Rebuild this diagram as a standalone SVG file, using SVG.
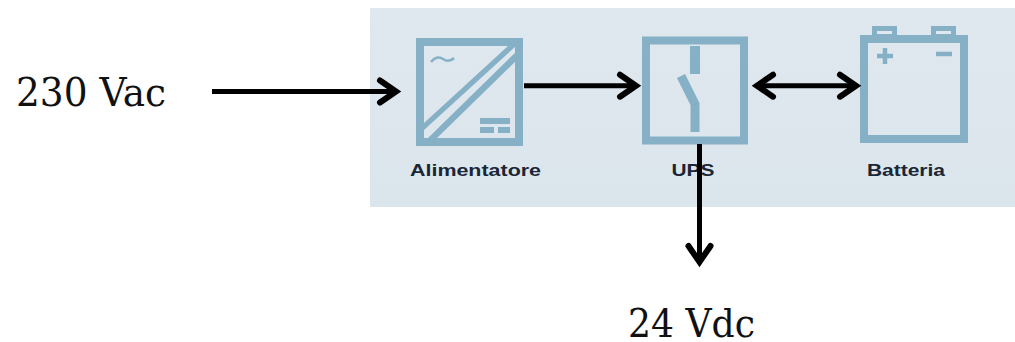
<svg xmlns="http://www.w3.org/2000/svg" width="1015" height="342" viewBox="0 0 1015 342">
<defs>
<linearGradient id="bg" x1="0" y1="0" x2="0" y2="1"><stop offset="0" stop-color="#e0e8ef"/><stop offset="1" stop-color="#dbe5ec"/></linearGradient>
<marker id="head" markerUnits="userSpaceOnUse" markerWidth="30" markerHeight="30" refX="18" refY="15" orient="auto-start-reverse" overflow="visible"><path d="M3 4 L19 15 L3 26" fill="none" stroke="#000" stroke-width="6" stroke-linecap="round" stroke-linejoin="miter"/></marker>
</defs>
<style>
.ic{fill:none;stroke:#85b0c5;stroke-width:8}
.fi{fill:#85b0c5}
.lb{font-family:"Liberation Sans",Arial,sans-serif;font-weight:700;font-size:17px;fill:#1a2636;text-anchor:middle}
.tx{font-family:"DejaVu Serif Condensed","DejaVu Serif",serif;font-size:40px;fill:#111}
.cn{fill:none;stroke:#000;stroke-width:5}
</style>
<rect x="370" y="8" width="645" height="199" fill="url(#bg)"/>
<g id="alimentatore">
<rect class="ic" x="420" y="42" width="99" height="100"/>
<path class="fi" d="M424 123 L508 46 L516 46 L424 130 Z M519 49 L519 58 L437 138 L428 138 Z"/>
<path d="M431 62 Q437 55 443 59 Q449 63 454 58" fill="none" stroke="#85b0c5" stroke-width="2.500"/>
<rect class="fi" x="480" y="118" width="30" height="6"/>
<rect class="fi" x="480" y="127" width="14" height="6"/>
<rect class="fi" x="498" y="127" width="12" height="6"/>
<text class="lb" x="475.500" y="176" textLength="131" lengthAdjust="spacingAndGlyphs">Alimentatore</text>
</g>
<g id="ups">
<rect class="ic" x="646" y="40.500" width="98" height="100"/>
<rect class="fi" x="690" y="46" width="10" height="28"/>
<path d="M681 76 L695 104 L695 132" fill="none" stroke="#85b0c5" stroke-width="9"/>
<text class="lb" x="693" y="176" textLength="43" lengthAdjust="spacingAndGlyphs">UPS</text>
</g>
<g id="batteria">
<rect class="ic" x="864" y="39" width="100" height="100"/>
<rect x="874.500" y="28.500" width="20" height="8" fill="none" stroke="#85b0c5" stroke-width="5"/>
<rect x="933.500" y="28.500" width="20" height="8" fill="none" stroke="#85b0c5" stroke-width="5"/>
<path d="M877 56 H893 M885 48 V64 M936 54 H952" fill="none" stroke="#85b0c5" stroke-width="4.500"/>
<text class="lb" x="906" y="176" textLength="78" lengthAdjust="spacingAndGlyphs">Batteria</text>
</g>
<g id="connectors">
<path class="cn" d="M212 91.500 H395" marker-end="url(#head)"/>
<path class="cn" d="M524 85.700 H635" marker-end="url(#head)"/>
<path class="cn" d="M758 85.700 H855" marker-start="url(#head)" marker-end="url(#head)"/>
<path class="cn" d="M699.500 144 V261" marker-end="url(#head)"/>
</g>
<g id="input"><text class="tx" x="16" y="106" textLength="150" lengthAdjust="spacingAndGlyphs">230 Vac</text></g>
<g id="output"><text class="tx" x="628" y="337" textLength="127" lengthAdjust="spacingAndGlyphs">24 Vdc</text></g>
</svg>
